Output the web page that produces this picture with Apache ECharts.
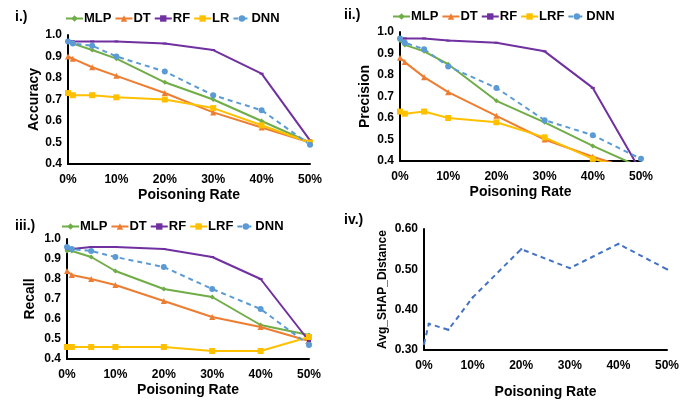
<!DOCTYPE html>
<html><head><meta charset="utf-8">
<script src="https://cdn.jsdelivr.net/npm/echarts@6/dist/echarts.min.js"></script>
<style>html,body{margin:0;padding:0;background:#fff}#c{width:694px;height:401px}</style>
</head><body><div id="c"></div>
<script>
const rates = [0, 1, 5, 10, 20, 30, 40, 50];

const accMLP = [0.97, 0.96, 0.93, 0.89, 0.78, 0.70, 0.60, 0.50];
const accDT  = [0.90, 0.89, 0.85, 0.81, 0.73, 0.64, 0.57, 0.50];
const accRF  = [0.97, 0.97, 0.97, 0.97, 0.96, 0.93, 0.82, 0.51];
const accLR  = [0.73, 0.72, 0.72, 0.71, 0.70, 0.66, 0.58, 0.50];
const accDNN = [0.97, 0.96, 0.95, 0.90, 0.83, 0.72, 0.65, 0.49];

const preMLP = [0.96, 0.94, 0.91, 0.85, 0.68, 0.58, 0.47, 0.37];
const preDT  = [0.88, 0.86, 0.79, 0.72, 0.61, 0.50, 0.42, 0.35];
const preRF  = [0.97, 0.97, 0.97, 0.96, 0.95, 0.91, 0.74, 0.35];
const preLRF = [0.63, 0.62, 0.63, 0.60, 0.58, 0.51, 0.41, 0.35];
const preDNN = [0.97, 0.95, 0.92, 0.84, 0.74, 0.59, 0.52, 0.41];

const recMLP = [0.94, 0.94, 0.91, 0.84, 0.75, 0.71, 0.57, 0.52];
const recDT  = [0.84, 0.82, 0.80, 0.77, 0.69, 0.61, 0.56, 0.49];
const recRF  = [0.95, 0.95, 0.96, 0.96, 0.95, 0.91, 0.80, 0.49];
const recLRF = [0.46, 0.46, 0.46, 0.46, 0.46, 0.44, 0.44, 0.51];
const recDNN = [0.96, 0.95, 0.94, 0.91, 0.86, 0.75, 0.65, 0.47];

const shapDist = [0.315, 0.365, 0.35, 0.43, 0.55, 0.503, 0.563, 0.50];

const C = {MLP:'#70AD47', DT:'#ED7D31', RF:'#7030A0', LR:'#FFC000', DNN:'#5B9BD5'};
const FONT = 'Liberation Sans, Arial, sans-serif';
const pair = arr => rates.map((r,i)=>[r, arr[i]]);

function mk(name, data, idx, color, symbol, size, dashed){
  return {name, type:'line', xAxisIndex:idx, yAxisIndex:idx, data:pair(data),
    symbol, symbolSize:size, showSymbol:true, clip:true,
    lineStyle:{color, width:2, type: dashed?[5,4]:'solid'},
    itemStyle:{color}, emphasis:{disabled:true}};
}
const grids = [
  {left:68, top:35, width:242, height:129},
  {left:400, top:32, width:241, height:129},
  {left:67, top:239, width:242, height:120},
  {left:424, top:229, width:243, height:121}
];
const yNames = ['Accuracy','Precision','Recall','Avg_SHAP_Distance'];
const yMin = [0.4,0.4,0.4,0.3], yMax=[1.0,1.0,1.0,0.6], yInt=[0.1,0.1,0.1,0.1];
const yGap = [25, 28, 30, 35];
const xGap = [24, 24, 24, 35];

const option = {
  animation:false,
  textStyle:{fontFamily:FONT},
  title:[
    {text:'i.)', left:10, top:5},
    {text:'ii.)', left:339, top:3},
    {text:'iii.)', left:10, top:214},
    {text:'iv.)', left:339, top:208}
  ].map(t=>Object.assign(t,{textStyle:{fontFamily:FONT,fontWeight:'bold',fontSize:14,color:'#000'}})),
  legend:[
    {data:['MLP','DT','RF','LR','DNN'], left:60, top:7},
    {data:['MLP','DT','RF','LRF','DNN'], left:387, top:5},
    {data:['MLP','DT','RF','LRF','DNN'], left:56, top:215}
  ].map(l=>Object.assign(l,{itemWidth:17, itemHeight:8, itemGap:3, selectedMode:false,
    textStyle:{fontFamily:FONT,fontWeight:'bold',fontSize:13,color:'#000', padding:[0,0,0,-4]}})),
  grid:grids,
  xAxis:grids.map((g,i)=>({type:'value', gridIndex:i, min:0, max:50, interval:10,
    name:'Poisoning Rate', nameLocation:'middle', nameGap:xGap[i],
    nameTextStyle:{fontFamily:FONT,fontWeight:'bold',fontSize:14,color:'#000'},
    axisLine:{lineStyle:{color:'#000',width:2}}, axisTick:{show:false}, splitLine:{show:false},
    axisLabel:{formatter:'{value}%', fontFamily:FONT, fontWeight:'bold', fontSize:12, color:'#000', margin:10}})),
  yAxis:grids.map((g,i)=>({type:'value', gridIndex:i, min:yMin[i], max:yMax[i], interval:yInt[i],
    name:yNames[i], nameLocation:'middle', nameGap:yGap[i], nameRotate:90,
    nameTextStyle:{fontFamily:FONT,fontWeight:'bold',fontSize: i===3?12:14,color:'#000'},
    axisLine:{show:true, lineStyle:{color:'#000',width:2}}, axisTick:{show:false}, splitLine:{show:false},
    axisLabel:{formatter:v=>v.toFixed(i===3?2:1), fontFamily:FONT, fontWeight:'bold', fontSize:12, color:'#000', margin:6}})),
  series:[
    mk('MLP',accMLP,0,C.MLP,'diamond',5), mk('DT',accDT,0,C.DT,'triangle',6), mk('RF',accRF,0,C.RF,'rect',[4,2]),
    mk('LR',accLR,0,C.LR,'rect',6), mk('DNN',accDNN,0,C.DNN,'circle',6,true),
    mk('MLP',preMLP,1,C.MLP,'diamond',5), mk('DT',preDT,1,C.DT,'triangle',6), mk('RF',preRF,1,C.RF,'rect',[4,2]),
    mk('LRF',preLRF,1,C.LR,'rect',6), mk('DNN',preDNN,1,C.DNN,'circle',6,true),
    mk('MLP',recMLP,2,C.MLP,'diamond',5), mk('DT',recDT,2,C.DT,'triangle',6), mk('RF',recRF,2,C.RF,'rect',[4,2]),
    mk('LRF',recLRF,2,C.LR,'rect',6), mk('DNN',recDNN,2,C.DNN,'circle',6,true),
    mk('SHAP',shapDist,3,'#4472C4','diamond',3,true)
  ]
};
const chart = echarts.init(document.getElementById('c'), null, {renderer:'canvas'});
chart.setOption(option);
</script></body></html>
